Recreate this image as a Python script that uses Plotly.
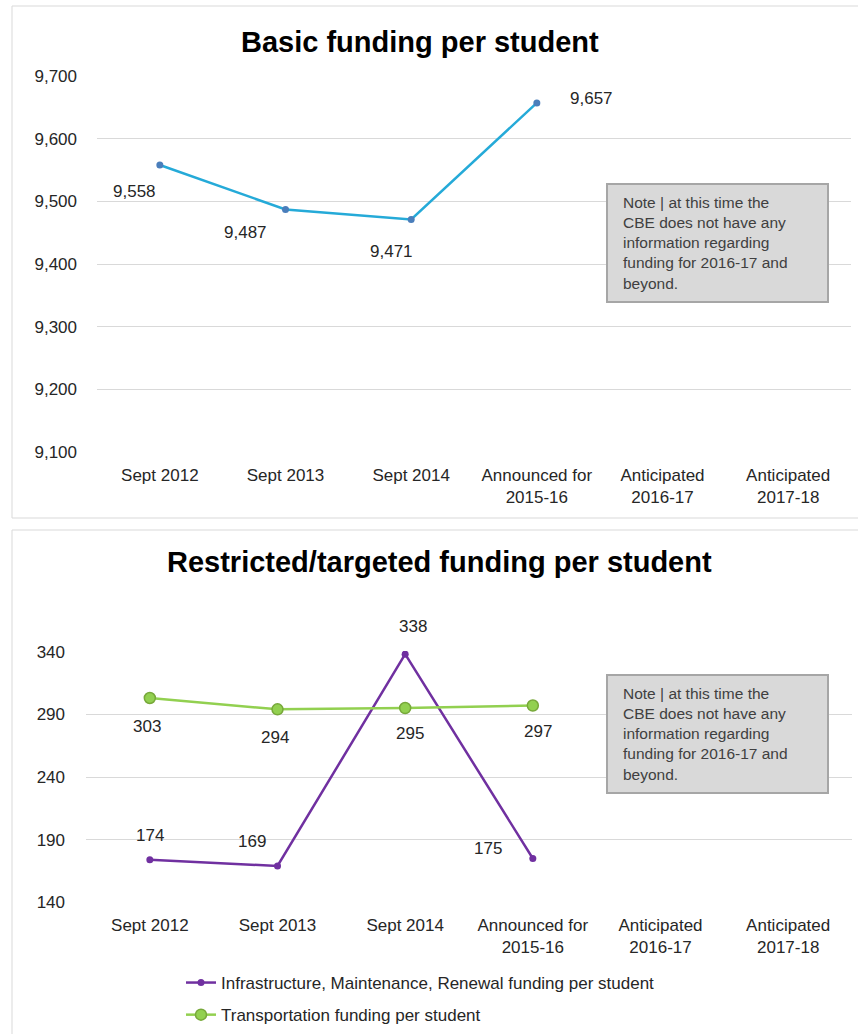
import plotly.graph_objects as go

W, H = 858, 1034

# ---- data ----
categories = ["Sept 2012", "Sept 2013", "Sept 2014", "Announced for<br>2015-16",
              "Anticipated<br>2016-17", "Anticipated<br>2017-18"]
basic_funding = [9558, 9487, 9471, 9657]
infra_funding = [174, 169, 338, 175]
transport_funding = [303, 294, 295, 297]
basic_ticks = [9100, 9200, 9300, 9400, 9500, 9600, 9700]
restricted_ticks = [140, 190, 240, 290, 340]

note_text = ("Note | at this time the<br>CBE does not have any<br>information regarding"
             "<br>funding for 2016-17 and<br>beyond.")

FONT = "Liberation Sans, Arial, sans-serif"
TXT = "#262626"
GRID = "#d9d9d9"


def px_x(p):
    return p / W


def px_y(p):
    return 1 - p / H


fig = go.Figure()

# top chart: basic funding
fig.add_trace(go.Scatter(
    x=categories[:len(basic_funding)], y=basic_funding, mode="lines+markers",
    line=dict(color="#25aad8", width=2.5),
    marker=dict(color="#4a7ebb", size=7),
    showlegend=False, xaxis="x", yaxis="y"))

# bottom chart: restricted/targeted funding
fig.add_trace(go.Scatter(
    x=categories[:len(infra_funding)], y=infra_funding, mode="lines+markers",
    name="Infrastructure, Maintenance, Renewal funding per student",
    line=dict(color="#7030a0", width=2.5),
    marker=dict(color="#7030a0", size=7),
    legendgroup="a", xaxis="x2", yaxis="y2"))
fig.add_trace(go.Scatter(
    x=categories[:len(transport_funding)], y=transport_funding, mode="lines+markers",
    name="Transportation funding per student",
    line=dict(color="#92d050", width=2.5),
    marker=dict(color="#92d050", size=11, line=dict(color="#77a83a", width=1.5)),
    legendgroup="b", xaxis="x2", yaxis="y2"))

annotations = []

# value labels, offset from their points
basic_offsets = [(-25, -27), (-40, -23), (-20, -32), (55, 4)]
for c, v, (dx, dy) in zip(categories, basic_funding, basic_offsets):
    annotations.append(dict(x=c, y=v, xref="x", yref="y", text=f"{v:,}",
                            showarrow=False, xshift=dx, yshift=dy,
                            font=dict(size=17, color=TXT, family=FONT)))

infra_offsets = [(0, 24), (-26, 25), (8, 28), (-45, 10)]
for c, v, (dx, dy) in zip(categories, infra_funding, infra_offsets):
    annotations.append(dict(x=c, y=v, xref="x2", yref="y2", text=f"{v}",
                            showarrow=False, xshift=dx, yshift=dy,
                            font=dict(size=17, color=TXT, family=FONT)))

transport_offsets = [(-3, -28), (-3, -28), (5, -25), (5, -26)]
for c, v, (dx, dy) in zip(categories, transport_funding, transport_offsets):
    annotations.append(dict(x=c, y=v, xref="x2", yref="y2", text=f"{v}",
                            showarrow=False, xshift=dx, yshift=dy,
                            font=dict(size=17, color=TXT, family=FONT)))

# titles
annotations.append(dict(x=px_x(420), y=px_y(42), xref="paper", yref="paper",
                        xanchor="center", yanchor="middle",
                        text="<b>Basic funding per student</b>", showarrow=False,
                        font=dict(size=29, color="#000000", family=FONT)))
annotations.append(dict(x=px_x(440), y=px_y(562), xref="paper", yref="paper",
                        xanchor="center", yanchor="middle",
                        text="<b>Restricted/targeted funding per student</b>", showarrow=False,
                        font=dict(size=29, color="#000000", family=FONT)))

# panel frames
shapes = [
    dict(type="rect", xref="paper", yref="paper", x0=px_x(12), x1=1.01,
         y0=px_y(518), y1=px_y(6), line=dict(color=GRID, width=1)),
    dict(type="rect", xref="paper", yref="paper", x0=px_x(12), x1=1.01,
         y0=px_y(1040), y1=px_y(530), line=dict(color=GRID, width=1)),
]

# note boxes: grey panel with the text set inside it
for top in (184, 675):
    shapes.append(dict(type="rect", xref="paper", yref="paper",
                       x0=px_x(607), x1=px_x(828), y0=px_y(top + 118), y1=px_y(top),
                       fillcolor="#d9d9d9", line=dict(color="#a6a6a6", width=2),
                       layer="above"))
    annotations.append(dict(x=px_x(621), y=px_y(top + 59), xref="paper", yref="paper",
                            xanchor="left", yanchor="middle", align="left",
                            text=note_text, showarrow=False,
                            font=dict(size=15.5, color="#404040", family=FONT)))

axis_font = dict(size=17, color=TXT, family=FONT)

fig.update_layout(
    width=W, height=H,
    margin=dict(l=0, r=0, t=0, b=0, autoexpand=False),
    paper_bgcolor="white", plot_bgcolor="white",
    font=dict(family=FONT, color=TXT),
    annotations=annotations, shapes=shapes,
    xaxis=dict(domain=[px_x(97), px_x(851)], type="category",
               categoryorder="array", categoryarray=categories,
               range=[-0.5, 5.5], showgrid=False, zeroline=False, showline=False,
               tickfont=axis_font, anchor="y", ticks="", ticklabelstandoff=10),
    yaxis=dict(domain=[px_y(453), px_y(75)], range=[9100 - 1.5, 9700 + 1.5],
               tickvals=basic_ticks, tickformat=",d", showgrid=True, gridcolor=GRID,
               gridwidth=1, zeroline=False, showline=False, tickfont=axis_font,
               ticklabelstandoff=19, anchor="x"),
    xaxis2=dict(domain=[px_x(86), px_x(852)], type="category",
                categoryorder="array", categoryarray=categories,
                range=[-0.5, 5.5], showgrid=False, zeroline=False, showline=False,
                tickfont=axis_font, anchor="y2", ticks="", ticklabelstandoff=10),
    yaxis2=dict(domain=[px_y(903), px_y(651)], range=[140 - 0.5, 340 + 0.5],
                tickvals=restricted_ticks, showgrid=True, gridcolor=GRID,
                gridwidth=1, zeroline=False, showline=False, tickfont=axis_font,
                ticklabelstandoff=20, anchor="x2"),
    legend=dict(x=px_x(181), y=px_y(965), xanchor="left", yanchor="top",
                orientation="v", traceorder="grouped", tracegroupgap=7,
                font=dict(size=17, color=TXT, family=FONT),
                bgcolor="rgba(0,0,0,0)"),
)

fig.write_html("out.html")
